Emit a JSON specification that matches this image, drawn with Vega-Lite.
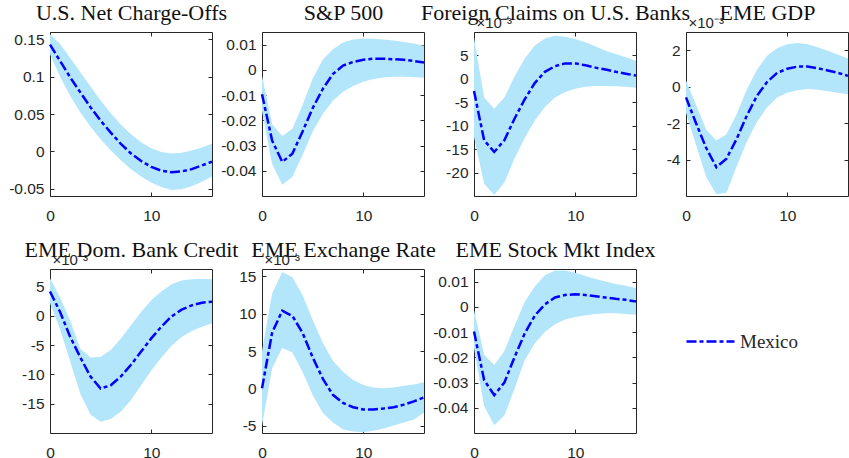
{
  "$schema": "https://vega.github.io/schema/vega-lite/v6.json",
  "padding": {"left": 8, "top": 0, "right": 0, "bottom": 0},
  "background": "white",
  "datasets": {
    "irf": [
      {"p":1,"t":0,"mid":0.143,"lo":0.130,"hi":0.157},
      {"p":1,"t":1,"mid":0.121,"lo":0.100,"hi":0.144},
      {"p":1,"t":2,"mid":0.099,"lo":0.074,"hi":0.125},
      {"p":1,"t":3,"mid":0.079,"lo":0.052,"hi":0.106},
      {"p":1,"t":4,"mid":0.059,"lo":0.033,"hi":0.087},
      {"p":1,"t":5,"mid":0.041,"lo":0.016,"hi":0.068},
      {"p":1,"t":6,"mid":0.025,"lo":0.001,"hi":0.051},
      {"p":1,"t":7,"mid":0.010,"lo":-0.012,"hi":0.036},
      {"p":1,"t":8,"mid":-0.003,"lo":-0.024,"hi":0.023},
      {"p":1,"t":9,"mid":-0.013,"lo":-0.034,"hi":0.012},
      {"p":1,"t":10,"mid":-0.021,"lo":-0.042,"hi":0.004},
      {"p":1,"t":11,"mid":-0.026,"lo":-0.048,"hi":-0.001},
      {"p":1,"t":12,"mid":-0.028,"lo":-0.052,"hi":-0.003},
      {"p":1,"t":13,"mid":-0.027,"lo":-0.051,"hi":-0.002},
      {"p":1,"t":14,"mid":-0.024,"lo":-0.047,"hi":0.001},
      {"p":1,"t":15,"mid":-0.019,"lo":-0.041,"hi":0.005},
      {"p":1,"t":16,"mid":-0.014,"lo":-0.034,"hi":0.010},

      {"p":2,"t":0,"mid":-0.0097,"lo":-0.0163,"hi":-0.0023},
      {"p":2,"t":1,"mid":-0.0280,"lo":-0.0373,"hi":-0.0216},
      {"p":2,"t":2,"mid":-0.0365,"lo":-0.0455,"hi":-0.0262},
      {"p":2,"t":3,"mid":-0.0332,"lo":-0.0425,"hi":-0.0233},
      {"p":2,"t":4,"mid":-0.0245,"lo":-0.0338,"hi":-0.0140},
      {"p":2,"t":5,"mid":-0.0152,"lo":-0.0245,"hi":-0.0035},
      {"p":2,"t":6,"mid":-0.0076,"lo":-0.0175,"hi":0.0040},
      {"p":2,"t":7,"mid":-0.0017,"lo":-0.0122,"hi":0.0082},
      {"p":2,"t":8,"mid":0.0017,"lo":-0.0087,"hi":0.0108},
      {"p":2,"t":9,"mid":0.0031,"lo":-0.0064,"hi":0.0120},
      {"p":2,"t":10,"mid":0.0040,"lo":-0.0047,"hi":0.0124},
      {"p":2,"t":11,"mid":0.0044,"lo":-0.0036,"hi":0.0123},
      {"p":2,"t":12,"mid":0.0044,"lo":-0.0030,"hi":0.0120},
      {"p":2,"t":13,"mid":0.0042,"lo":-0.0027,"hi":0.0116},
      {"p":2,"t":14,"mid":0.0040,"lo":-0.0027,"hi":0.0110},
      {"p":2,"t":15,"mid":0.0035,"lo":-0.0029,"hi":0.0104},
      {"p":2,"t":16,"mid":0.0029,"lo":-0.0031,"hi":0.0096},

      {"p":3,"t":0,"mid":-2.6,"lo":-12.4,"hi":8.8},
      {"p":3,"t":1,"mid":-13.1,"lo":-22.4,"hi":-4.0},
      {"p":3,"t":2,"mid":-15.6,"lo":-24.8,"hi":-6.4},
      {"p":3,"t":3,"mid":-13.1,"lo":-22.1,"hi":-4.0},
      {"p":3,"t":4,"mid":-8.5,"lo":-17.0,"hi":0.5},
      {"p":3,"t":5,"mid":-4.4,"lo":-12.7,"hi":4.3},
      {"p":3,"t":6,"mid":-0.9,"lo":-8.9,"hi":7.1},
      {"p":3,"t":7,"mid":1.5,"lo":-6.0,"hi":8.6},
      {"p":3,"t":8,"mid":2.7,"lo":-4.0,"hi":9.2},
      {"p":3,"t":9,"mid":3.3,"lo":-2.8,"hi":9.0},
      {"p":3,"t":10,"mid":3.3,"lo":-2.1,"hi":8.5},
      {"p":3,"t":11,"mid":2.9,"lo":-1.7,"hi":7.8},
      {"p":3,"t":12,"mid":2.4,"lo":-1.5,"hi":6.9},
      {"p":3,"t":13,"mid":2.0,"lo":-1.5,"hi":6.0},
      {"p":3,"t":14,"mid":1.5,"lo":-1.6,"hi":5.3},
      {"p":3,"t":15,"mid":1.1,"lo":-1.7,"hi":4.6},
      {"p":3,"t":16,"mid":0.7,"lo":-1.9,"hi":3.8},

      {"p":4,"t":0,"mid":-0.59,"lo":-1.43,"hi":0.34},
      {"p":4,"t":1,"mid":-2.02,"lo":-3.20,"hi":-1.01},
      {"p":4,"t":2,"mid":-3.37,"lo":-4.97,"hi":-2.36},
      {"p":4,"t":3,"mid":-4.42,"lo":-5.90,"hi":-2.95},
      {"p":4,"t":4,"mid":-3.95,"lo":-5.82,"hi":-2.61},
      {"p":4,"t":5,"mid":-2.87,"lo":-4.38,"hi":-1.52},
      {"p":4,"t":6,"mid":-1.60,"lo":-3.04,"hi":-0.17},
      {"p":4,"t":7,"mid":-0.51,"lo":-1.94,"hi":0.93},
      {"p":4,"t":8,"mid":0.25,"lo":-1.15,"hi":1.69},
      {"p":4,"t":9,"mid":0.76,"lo":-0.59,"hi":2.11},
      {"p":4,"t":10,"mid":0.98,"lo":-0.34,"hi":2.33},
      {"p":4,"t":11,"mid":1.10,"lo":-0.20,"hi":2.39},
      {"p":4,"t":12,"mid":1.10,"lo":-0.13,"hi":2.33},
      {"p":4,"t":13,"mid":1.01,"lo":-0.17,"hi":2.16},
      {"p":4,"t":14,"mid":0.89,"lo":-0.25,"hi":1.97},
      {"p":4,"t":15,"mid":0.76,"lo":-0.34,"hi":1.77},
      {"p":4,"t":16,"mid":0.59,"lo":-0.42,"hi":1.55},

      {"p":5,"t":0,"mid":4.15,"lo":2.15,"hi":6.4},
      {"p":5,"t":1,"mid":0.65,"lo":-2.35,"hi":3.15},
      {"p":5,"t":2,"mid":-3.6,"lo":-7.85,"hi":-0.85},
      {"p":5,"t":3,"mid":-7.1,"lo":-13.35,"hi":-5.6},
      {"p":5,"t":4,"mid":-10.35,"lo":-16.85,"hi":-7.1},
      {"p":5,"t":5,"mid":-12.4,"lo":-18.1,"hi":-7.0},
      {"p":5,"t":6,"mid":-11.85,"lo":-17.6,"hi":-5.85},
      {"p":5,"t":7,"mid":-10.35,"lo":-16.35,"hi":-3.85},
      {"p":5,"t":8,"mid":-8.35,"lo":-14.35,"hi":-1.6},
      {"p":5,"t":9,"mid":-6.1,"lo":-11.85,"hi":0.65},
      {"p":5,"t":10,"mid":-3.85,"lo":-9.35,"hi":2.65},
      {"p":5,"t":11,"mid":-1.85,"lo":-7.1,"hi":4.15},
      {"p":5,"t":12,"mid":-0.1,"lo":-5.1,"hi":5.4},
      {"p":5,"t":13,"mid":1.05,"lo":-3.6,"hi":6.05},
      {"p":5,"t":14,"mid":1.8,"lo":-2.6,"hi":6.25},
      {"p":5,"t":15,"mid":2.25,"lo":-1.85,"hi":6.3},
      {"p":5,"t":16,"mid":2.4,"lo":-1.25,"hi":6.25},

      {"p":6,"t":0,"mid":0.0,"lo":-5.0,"hi":5.0},
      {"p":6,"t":1,"mid":7.46,"lo":2.7,"hi":12.7},
      {"p":6,"t":2,"mid":10.4,"lo":5.4,"hi":15.6},
      {"p":6,"t":3,"mid":9.7,"lo":4.8,"hi":14.9},
      {"p":6,"t":4,"mid":7.46,"lo":2.2,"hi":12.5},
      {"p":6,"t":5,"mid":4.17,"lo":-0.9,"hi":9.2},
      {"p":6,"t":6,"mid":1.3,"lo":-3.3,"hi":6.1},
      {"p":6,"t":7,"mid":-0.88,"lo":-4.6,"hi":3.7},
      {"p":6,"t":8,"mid":-1.97,"lo":-5.5,"hi":2.2},
      {"p":6,"t":9,"mid":-2.54,"lo":-5.8,"hi":1.1},
      {"p":6,"t":10,"mid":-2.85,"lo":-5.9,"hi":0.44},
      {"p":6,"t":11,"mid":-2.85,"lo":-5.7,"hi":0.1},
      {"p":6,"t":12,"mid":-2.72,"lo":-5.4,"hi":0.0},
      {"p":6,"t":13,"mid":-2.54,"lo":-5.0,"hi":0.1},
      {"p":6,"t":14,"mid":-2.2,"lo":-4.6,"hi":0.35},
      {"p":6,"t":15,"mid":-1.75,"lo":-4.2,"hi":0.5},
      {"p":6,"t":16,"mid":-1.23,"lo":-3.3,"hi":0.8},

      {"p":7,"t":0,"mid":-0.0098,"lo":-0.0163,"hi":-0.0013},
      {"p":7,"t":1,"mid":-0.0290,"lo":-0.0394,"hi":-0.0190},
      {"p":7,"t":2,"mid":-0.0350,"lo":-0.0469,"hi":-0.0230},
      {"p":7,"t":3,"mid":-0.0300,"lo":-0.0431,"hi":-0.0175},
      {"p":7,"t":4,"mid":-0.0200,"lo":-0.0325,"hi":-0.0075},
      {"p":7,"t":5,"mid":-0.0106,"lo":-0.0213,"hi":0.0019},
      {"p":7,"t":6,"mid":-0.0035,"lo":-0.0144,"hi":0.0081},
      {"p":7,"t":7,"mid":0.0010,"lo":-0.0100,"hi":0.0125},
      {"p":7,"t":8,"mid":0.0037,"lo":-0.0069,"hi":0.0144},
      {"p":7,"t":9,"mid":0.0047,"lo":-0.0050,"hi":0.0144},
      {"p":7,"t":10,"mid":0.0050,"lo":-0.0040,"hi":0.0135},
      {"p":7,"t":11,"mid":0.0047,"lo":-0.0033,"hi":0.0122},
      {"p":7,"t":12,"mid":0.0042,"lo":-0.0028,"hi":0.0110},
      {"p":7,"t":13,"mid":0.0037,"lo":-0.0025,"hi":0.0100},
      {"p":7,"t":14,"mid":0.0032,"lo":-0.0025,"hi":0.0091},
      {"p":7,"t":15,"mid":0.0028,"lo":-0.0028,"hi":0.0084},
      {"p":7,"t":16,"mid":0.0021,"lo":-0.0031,"hi":0.0075}
    ]
  },
  "data": {"name": "irf"},
  "columns": 4,
  "bounds": "flush",
  "spacing": {"row": 73, "column": 50},
  "concat": [
    {
      "width": 162, "height": 164,
      "transform": [{"filter": "datum.p == 1"}],
      "layer": [
        {"mark": {"type": "area", "color": "#b3e6fa", "opacity": 1},
         "encoding": {
           "x": {"field": "t", "type": "quantitative", "scale": {"domain": [0, 16]}, "axis": {"values": [0, 10], "title": null}},
           "y": {"field": "hi", "type": "quantitative", "scale": {"domain": [-0.0522, 0.157]}, "axis": {"values": [-0.05, 0, 0.05, 0.1, 0.15], "labelExpr": "'' + datum.value", "title": null}},
           "y2": {"field": "lo"}}},
        {"mark": {"type": "line", "strokeWidth": 2.5, "strokeDash": [10, 3, 4, 3]},
         "encoding": {
           "x": {"field": "t", "type": "quantitative", "axis": {"orient": "top", "values": [0, 10], "labels": false, "title": "U.S. Net Charge-Offs", "titleFont": "Liberation Serif", "titleFontSize": 22, "titleColor": "#111111", "titleAlign": "center", "titleX": 81, "titleY": -13}},
           "y": {"field": "mid", "type": "quantitative", "axis": {"orient": "right", "values": [-0.05, 0, 0.05, 0.1, 0.15], "labels": false, "title": null}},
           "color": {"datum": "Mexico", "type": "nominal", "scale": {"range": ["#0000ff"]}, "legend": {"title": null}}}}
      ],
      "resolve": {"axis": {"x": "independent", "y": "independent"}}
    },
    {
      "width": 162, "height": 164,
      "transform": [{"filter": "datum.p == 2"}],
      "layer": [
        {"mark": {"type": "area", "color": "#b3e6fa", "opacity": 1},
         "encoding": {
           "x": {"field": "t", "type": "quantitative", "scale": {"domain": [0, 16]}, "axis": {"values": [0, 10], "title": null}},
           "y": {"field": "hi", "type": "quantitative", "scale": {"domain": [-0.0455, 0.0124]}, "axis": {"values": [-0.04, -0.03, -0.02, -0.01, 0, 0.01], "labelExpr": "'' + datum.value", "title": null}},
           "y2": {"field": "lo"}}},
        {"mark": {"type": "line", "strokeWidth": 2.5, "strokeDash": [10, 3, 4, 3]},
         "encoding": {
           "x": {"field": "t", "type": "quantitative", "axis": {"orient": "top", "values": [0, 10], "labels": false, "title": "S&P 500", "titleFont": "Liberation Serif", "titleFontSize": 22, "titleColor": "#111111", "titleAlign": "center", "titleX": 81, "titleY": -13}},
           "y": {"field": "mid", "type": "quantitative", "axis": {"orient": "right", "values": [-0.04, -0.03, -0.02, -0.01, 0, 0.01], "labels": false, "title": null}},
           "color": {"datum": "Mexico", "type": "nominal"}}}
      ],
      "resolve": {"axis": {"x": "independent", "y": "independent"}}
    },
    {
      "width": 162, "height": 164,
      "transform": [{"filter": "datum.p == 3"}],
      "layer": [
        {"mark": {"type": "area", "color": "#b3e6fa", "opacity": 1},
         "encoding": {
           "x": {"field": "t", "type": "quantitative", "scale": {"domain": [0, 16]}, "axis": {"values": [0, 10], "title": null}},
           "y": {"field": "hi", "type": "quantitative", "scale": {"domain": [-24.8, 9.2]}, "axis": {"values": [-20, -15, -10, -5, 0, 5], "labelExpr": "'' + datum.value", "title": "×10⁻³"}},
           "y2": {"field": "lo"}}},
        {"mark": {"type": "line", "strokeWidth": 2.5, "strokeDash": [10, 3, 4, 3]},
         "encoding": {
           "x": {"field": "t", "type": "quantitative", "axis": {"orient": "top", "values": [0, 10], "labels": false, "title": "Foreign Claims on U.S. Banks", "titleFont": "Liberation Serif", "titleFontSize": 22, "titleColor": "#111111", "titleAlign": "center", "titleX": 81, "titleY": -13}},
           "y": {"field": "mid", "type": "quantitative", "axis": {"orient": "right", "values": [-20, -15, -10, -5, 0, 5], "labels": false, "title": null}},
           "color": {"datum": "Mexico", "type": "nominal"}}}
      ],
      "resolve": {"axis": {"x": "independent", "y": "independent"}}
    },
    {
      "width": 162, "height": 164,
      "transform": [{"filter": "datum.p == 4"}],
      "layer": [
        {"mark": {"type": "area", "color": "#b3e6fa", "opacity": 1},
         "encoding": {
           "x": {"field": "t", "type": "quantitative", "scale": {"domain": [0, 16]}, "axis": {"values": [0, 10], "title": null}},
           "y": {"field": "hi", "type": "quantitative", "scale": {"domain": [-5.9, 2.39]}, "axis": {"values": [-4, -2, 0, 2], "labelExpr": "'' + datum.value", "title": "×10⁻³"}},
           "y2": {"field": "lo"}}},
        {"mark": {"type": "line", "strokeWidth": 2.5, "strokeDash": [10, 3, 4, 3]},
         "encoding": {
           "x": {"field": "t", "type": "quantitative", "axis": {"orient": "top", "values": [0, 10], "labels": false, "title": "EME GDP", "titleFont": "Liberation Serif", "titleFontSize": 22, "titleColor": "#111111", "titleAlign": "center", "titleX": 81, "titleY": -13}},
           "y": {"field": "mid", "type": "quantitative", "axis": {"orient": "right", "values": [-4, -2, 0, 2], "labels": false, "title": null}},
           "color": {"datum": "Mexico", "type": "nominal"}}}
      ],
      "resolve": {"axis": {"x": "independent", "y": "independent"}}
    },
    {
      "width": 162, "height": 164,
      "transform": [{"filter": "datum.p == 5"}],
      "layer": [
        {"mark": {"type": "area", "color": "#b3e6fa", "opacity": 1},
         "encoding": {
           "x": {"field": "t", "type": "quantitative", "scale": {"domain": [0, 16]}, "axis": {"values": [0, 10], "title": null}},
           "y": {"field": "hi", "type": "quantitative", "scale": {"domain": [-18.1, 6.4]}, "axis": {"values": [-15, -10, -5, 0, 5], "labelExpr": "'' + datum.value", "title": "×10⁻³"}},
           "y2": {"field": "lo"}}},
        {"mark": {"type": "line", "strokeWidth": 2.5, "strokeDash": [10, 3, 4, 3]},
         "encoding": {
           "x": {"field": "t", "type": "quantitative", "axis": {"orient": "top", "values": [0, 10], "labels": false, "title": "EME Dom. Bank Credit", "titleFont": "Liberation Serif", "titleFontSize": 22, "titleColor": "#111111", "titleAlign": "center", "titleX": 81, "titleY": -13}},
           "y": {"field": "mid", "type": "quantitative", "axis": {"orient": "right", "values": [-15, -10, -5, 0, 5], "labels": false, "title": null}},
           "color": {"datum": "Mexico", "type": "nominal"}}}
      ],
      "resolve": {"axis": {"x": "independent", "y": "independent"}}
    },
    {
      "width": 162, "height": 164,
      "transform": [{"filter": "datum.p == 6"}],
      "layer": [
        {"mark": {"type": "area", "color": "#b3e6fa", "opacity": 1},
         "encoding": {
           "x": {"field": "t", "type": "quantitative", "scale": {"domain": [0, 16]}, "axis": {"values": [0, 10], "title": null}},
           "y": {"field": "hi", "type": "quantitative", "scale": {"domain": [-5.9, 15.6]}, "axis": {"values": [-5, 0, 5, 10, 15], "labelExpr": "'' + datum.value", "title": "×10⁻³"}},
           "y2": {"field": "lo"}}},
        {"mark": {"type": "line", "strokeWidth": 2.5, "strokeDash": [10, 3, 4, 3]},
         "encoding": {
           "x": {"field": "t", "type": "quantitative", "axis": {"orient": "top", "values": [0, 10], "labels": false, "title": "EME Exchange Rate", "titleFont": "Liberation Serif", "titleFontSize": 22, "titleColor": "#111111", "titleAlign": "center", "titleX": 81, "titleY": -13}},
           "y": {"field": "mid", "type": "quantitative", "axis": {"orient": "right", "values": [-5, 0, 5, 10, 15], "labels": false, "title": null}},
           "color": {"datum": "Mexico", "type": "nominal"}}}
      ],
      "resolve": {"axis": {"x": "independent", "y": "independent"}}
    },
    {
      "width": 162, "height": 164,
      "transform": [{"filter": "datum.p == 7"}],
      "layer": [
        {"mark": {"type": "area", "color": "#b3e6fa", "opacity": 1},
         "encoding": {
           "x": {"field": "t", "type": "quantitative", "scale": {"domain": [0, 16]}, "axis": {"values": [0, 10], "title": null}},
           "y": {"field": "hi", "type": "quantitative", "scale": {"domain": [-0.0469, 0.0144]}, "axis": {"values": [-0.04, -0.03, -0.02, -0.01, 0, 0.01], "labelExpr": "'' + datum.value", "title": null}},
           "y2": {"field": "lo"}}},
        {"mark": {"type": "line", "strokeWidth": 2.5, "strokeDash": [10, 3, 4, 3]},
         "encoding": {
           "x": {"field": "t", "type": "quantitative", "axis": {"orient": "top", "values": [0, 10], "labels": false, "title": "EME Stock Mkt Index", "titleFont": "Liberation Serif", "titleFontSize": 22, "titleColor": "#111111", "titleAlign": "center", "titleX": 81, "titleY": -13}},
           "y": {"field": "mid", "type": "quantitative", "axis": {"orient": "right", "values": [-0.04, -0.03, -0.02, -0.01, 0, 0.01], "labels": false, "title": null}},
           "color": {"datum": "Mexico", "type": "nominal"}}}
      ],
      "resolve": {"axis": {"x": "independent", "y": "independent"}}
    }
  ],
  "config": {
    "view": {"stroke": "#262626", "strokeWidth": 1},
    "axis": {
      "domain": false, "grid": false,
      "tickSize": -4, "tickColor": "#262626", "tickWidth": 1,
      "labelFont": "Liberation Sans", "labelFontSize": 15.5, "labelColor": "#262626",
      "labelFlush": false, "labelOverlap": false,
      "titleFont": "Liberation Sans", "titleFontSize": 15, "titleFontWeight": "normal", "titleColor": "#262626",
      "titleAngle": 0, "titleAlign": "left", "titleBaseline": "alphabetic", "titleX": 2, "titleY": -5, "titlePadding": 0
    },
    "axisX": {"labelPadding": 16},
    "axisY": {"labelPadding": 10},
    "legend": {
      "orient": "none", "legendX": 635, "legendY": 284, "padding": 0,
      "symbolType": "stroke", "symbolSize": 2304, "symbolStrokeWidth": 2.5, "symbolDash": [10, 3, 4, 3],
      "labelFont": "Liberation Serif", "labelFontSize": 19, "labelColor": "#262626", "labelOffset": 4
    }
  }
}
